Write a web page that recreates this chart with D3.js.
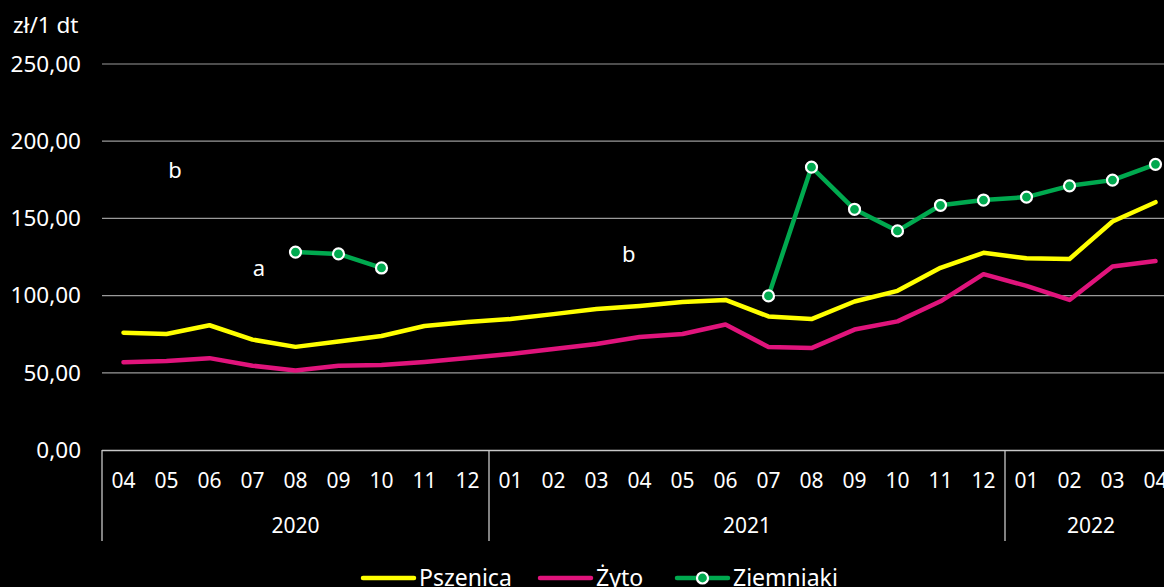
<!DOCTYPE html>
<html><head><meta charset="utf-8">
<script src="https://cdn.jsdelivr.net/npm/d3@7"></script>
<style>
html,body{margin:0;padding:0;background:#000;overflow:hidden;}
svg{display:block;}
text{font-family:"Noto Sans","Open Sans",sans-serif;fill:#fff;}
</style></head>
<body>
<svg id="c" width="1164" height="587"></svg>
<script>
const months = ["04","05","06","07","08","09","10","11","12","01","02","03","04","05","06","07","08","09","10","11","12","01","02","03","04"];
const years = [{label:"2020", start:0, end:9},{label:"2021", start:9, end:21},{label:"2022", start:21, end:25}];
const pszenica = [76.0,75.1,80.8,71.5,66.8,70.3,73.8,80.3,82.9,84.8,88.0,91.3,93.3,95.9,97.2,86.5,84.8,96.2,103.1,118.0,127.7,124.2,123.7,148.0,160.5];
const zyto = [56.9,57.6,59.5,54.6,51.5,54.5,55.0,57.0,59.6,62.2,65.4,68.7,73.2,75.1,81.3,66.7,66.0,78.0,83.3,96.3,113.9,106.3,97.2,118.9,122.4];
const ziemniaki = [null,null,null,null,128.2,127.0,117.9,null,null,null,null,null,null,null,null,99.8,183.2,155.9,141.9,158.5,161.9,163.8,171.1,174.8,185.0];
const yTicks = [0,50,100,150,200,250];
const notes = [{text:"b", idx:1.2, v:181},{text:"a", idx:3.15, v:118},{text:"b", idx:11.75, v:127}];
const seriesNames = ["Pszenica","Żyto","Ziemniaki"];
const colors = {Pszenica:"#ffff00", "Żyto":"#e0147c", Ziemniaki:"#00a94f"};

const svg = d3.select("#c");
const x = d3.scaleBand().domain(d3.range(months.length)).range([102,1177]).padding(0);
const y = d3.scaleLinear().domain([0,250]).range([450,64]);
const cx = i => x(i) + x.bandwidth()/2;
const fmt = v => d3.format(".2f")(v).replace(".",",");

// gridlines
svg.append("g").selectAll("line").data(yTicks.filter(t=>t>0)).join("line")
  .attr("x1",102).attr("x2",1177).attr("y1",d=>y(d)).attr("y2",d=>y(d))
  .attr("stroke","#9a9a9a").attr("stroke-width",1.2);
// y labels
svg.append("g").selectAll("text").data(yTicks).join("text")
  .attr("x",81).attr("y",d=>y(d)).attr("dy","0.35em").attr("text-anchor","end")
  .attr("font-size",22.5).text(fmt);
svg.append("text").attr("x",13).attr("y",33).attr("font-size",22.5).text("zł/1 dt");

// x axis
svg.append("line").attr("x1",102).attr("x2",1177).attr("y1",450.5).attr("y2",450.5).attr("stroke","#c8c8c8").attr("stroke-width",1.3);
const seps = [0].concat(years.map(d=>d.end));
svg.append("g").selectAll("line").data(seps).join("line")
  .attr("x1",d=>d<months.length?x(d):1177).attr("x2",d=>d<months.length?x(d):1177)
  .attr("y1",450).attr("y2",541).attr("stroke","#c8c8c8").attr("stroke-width",1.3);
svg.append("g").selectAll("text").data(months).join("text")
  .attr("x",(d,i)=>cx(i)).attr("y",481).attr("dy","0.35em").attr("text-anchor","middle")
  .attr("font-size",21).text(d=>d);
svg.append("g").selectAll("text").data(years).join("text")
  .attr("x",d=>(x(d.start)+(d.end<months.length?x(d.end):1177))/2).attr("y",526).attr("dy","0.35em")
  .attr("text-anchor","middle").attr("font-size",21).text(d=>d.label);

// notes
svg.append("g").selectAll("text").data(notes).join("text")
  .attr("x",d=>x(0)+x.bandwidth()*(d.idx+0.5)).attr("y",d=>y(d.v)).attr("dy","0.35em")
  .attr("text-anchor","middle").attr("font-size",22).text(d=>d.text);

// lines
const line = d3.line().defined(d=>d!=null).x((d,i)=>cx(i)).y(d=>y(d));
[[pszenica,"Pszenica"],[zyto,"Żyto"],[ziemniaki,"Ziemniaki"]].forEach(([data,name])=>{
  svg.append("path").datum(data).attr("d",line).attr("fill","none")
    .attr("stroke",colors[name]).attr("stroke-width",4.5).attr("stroke-linejoin","round").attr("stroke-linecap","round");
});
svg.append("g").selectAll("circle").data(ziemniaki.map((v,i)=>({v,i})).filter(d=>d.v!=null)).join("circle")
  .attr("cx",d=>cx(d.i)).attr("cy",d=>y(d.v)).attr("r",5.5)
  .attr("fill",colors.Ziemniaki).attr("stroke","#fff").attr("stroke-width",2.2);

// legend
const lg = svg.append("g");
const legendPos = [{name:"Pszenica", x:361},{name:"Żyto", x:538},{name:"Ziemniaki", x:675}];
legendPos.forEach(d=>{
  lg.append("line").attr("x1",d.x+2).attr("x2",d.x+53).attr("y1",578).attr("y2",578)
    .attr("stroke",colors[d.name]).attr("stroke-width",4.5).attr("stroke-linecap","round");
  if(d.name==="Ziemniaki"){
    lg.append("circle").attr("cx",d.x+27.5).attr("cy",578).attr("r",5.5)
      .attr("fill",colors[d.name]).attr("stroke","#fff").attr("stroke-width",2.2);
  }
  lg.append("text").attr("x",d.x+58).attr("y",578).attr("dy","0.35em").attr("font-size",23).text(d.name);
});
</script>
</body></html>
